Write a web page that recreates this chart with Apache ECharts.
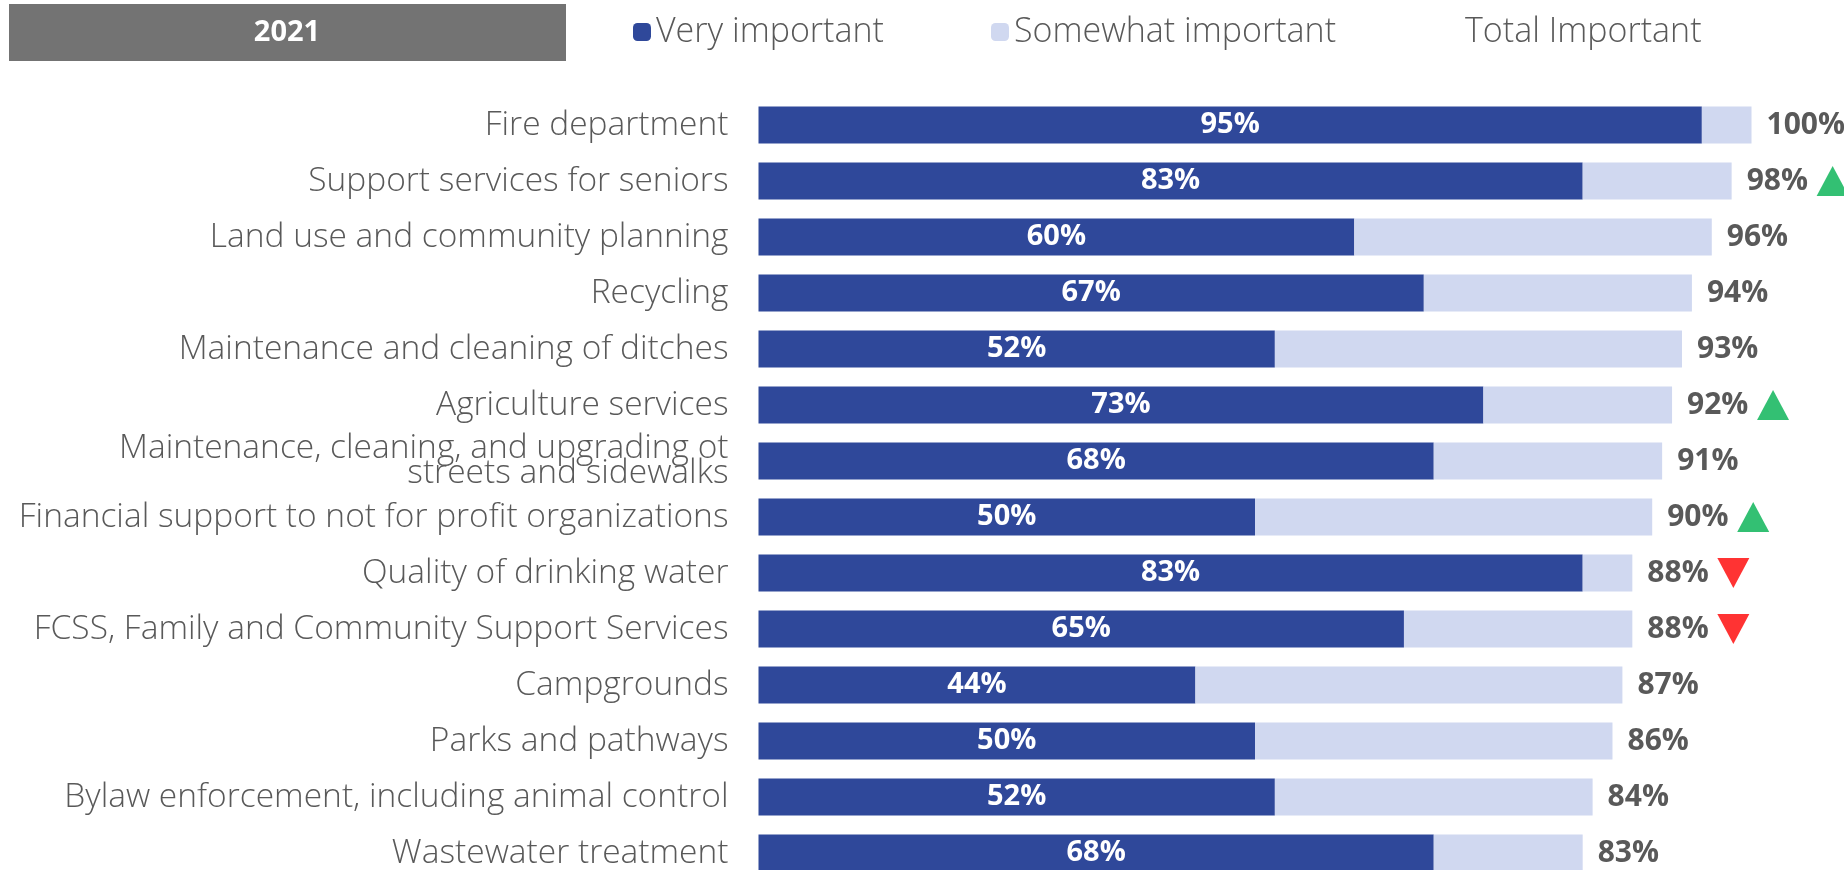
<!DOCTYPE html>
<html>
<head>
<meta charset="utf-8">
<script src="https://cdn.jsdelivr.net/npm/echarts@6/dist/echarts.min.js"></script>
<style>
  html, body { margin: 0; padding: 0; background: #ffffff; }
  #chart { width: 1844px; height: 870px; }
</style>
</head>
<body>
<div id="chart"></div>
<script>
const yearLabel = '2021';
const categories = [
  'Fire department',
  'Support services for seniors',
  'Land use and community planning',
  'Recycling',
  'Maintenance and cleaning of ditches',
  'Agriculture services',
  'Maintenance, cleaning, and upgrading ot\nstreets and sidewalks',
  'Financial support to not for profit organizations',
  'Quality of drinking water',
  'FCSS, Family and Community Support Services',
  'Campgrounds',
  'Parks and pathways',
  'Bylaw enforcement, including animal control',
  'Wastewater treatment'
];
const veryImportant = [95, 83, 60, 67, 52, 73, 68, 50, 83, 65, 44, 50, 52, 68];
const totalImportant = [100, 98, 96, 94, 93, 92, 91, 90, 88, 88, 87, 86, 84, 83];
// trend vs previous wave: 1 = up, -1 = down, 0 = none
const trend = [0, 1, 0, 0, 0, 1, 0, 1, -1, -1, 0, 0, 0, 0];
const seriesNames = ['Very important', 'Somewhat important', 'Total Important'];

const somewhatImportant = totalImportant.map((t, i) => t - veryImportant[i]);

const FONT = 'Open Sans';
const GREY = '#595959';
const DARK = '#2F489A';
const LIGHT = '#D0D8F0';

const upData = [], downData = [];
trend.forEach((t, i) => {
  if (t > 0) upData.push([totalImportant[i], categories[i]]);
  if (t < 0) downData.push([totalImportant[i], categories[i]]);
});

const chart = echarts.init(document.getElementById('chart'), null, { renderer: 'canvas' });

const legendText = { fontFamily: FONT, fontSize: 34, fontWeight: 300, color: GREY };
const legendBase = { top: 15, padding: 0, itemWidth: 18, itemHeight: 18, itemGap: 0, textStyle: legendText, selectedMode: false };

chart.setOption({
  animation: false,
  backgroundColor: '#ffffff',
  graphic: [
    {
      type: 'rect', left: 9, top: 4, z: 10,
      shape: { width: 557, height: 57 },
      style: { fill: '#737373' }
    },
    {
      type: 'text', z: 11,
      x: 287, y: 33,
      style: {
        text: yearLabel, fill: '#ffffff', font: 'bold 29px "Open Sans"',
        align: 'center', verticalAlign: 'middle'
      }
    }
  ],
  legend: [
    Object.assign({ data: [seriesNames[0]], left: 633 }, legendBase),
    Object.assign({ data: [seriesNames[1]], left: 991 }, legendBase),
    Object.assign({ data: [{ name: seriesNames[2], itemStyle: { color: 'rgba(0,0,0,0)' } }], left: 1442 }, legendBase)
  ],
  grid: { left: 758.5, top: 97, width: 993, height: 784, containLabel: false, outerBoundsMode: 'none' },
  xAxis: {
    type: 'value', min: 0, max: 100,
    show: false
  },
  yAxis: {
    type: 'category', data: categories, inverse: true,
    axisLine: { show: false }, axisTick: { show: false }, splitLine: { show: false },
    axisLabel: {
      margin: 30, fontFamily: FONT, fontSize: 33.5, fontWeight: 300, color: GREY,
      lineHeight: 25, align: 'right', padding: [0, 0, 15, 0]
    }
  },
  series: [
    {
      name: seriesNames[0], type: 'bar', stack: 'imp', barWidth: 37,
      data: veryImportant,
      itemStyle: { color: DARK },
      label: {
        show: true, position: 'inside', formatter: '{c}%',
        fontFamily: FONT, fontSize: 29, fontWeight: 'bold', color: '#ffffff'
      }
    },
    {
      name: seriesNames[1], type: 'bar', stack: 'imp', barWidth: 37,
      data: somewhatImportant,
      itemStyle: { color: LIGHT }
    },
    {
      name: seriesNames[2], type: 'bar', barWidth: 37, barGap: '-100%',
      data: totalImportant,
      itemStyle: { color: 'rgba(0,0,0,0)' },
      label: {
        show: true, position: 'right', distance: 15, formatter: '{c}%',
        fontFamily: FONT, fontSize: 30, fontWeight: 'bold', color: GREY
      },
      z: 1
    },
    {
      name: 'up', type: 'scatter', symbol: 'triangle', symbolSize: [32, 30],
      symbolOffset: [101, 0], data: upData,
      itemStyle: { color: '#00B050' }, z: 5
    },
    {
      name: 'down', type: 'scatter', symbol: 'triangle', symbolSize: [32, 30],
      symbolRotate: 180, symbolOffset: [101, 0], data: downData,
      itemStyle: { color: '#FF0000' }, z: 5
    }
  ]
});
</script>
</body>
</html>
